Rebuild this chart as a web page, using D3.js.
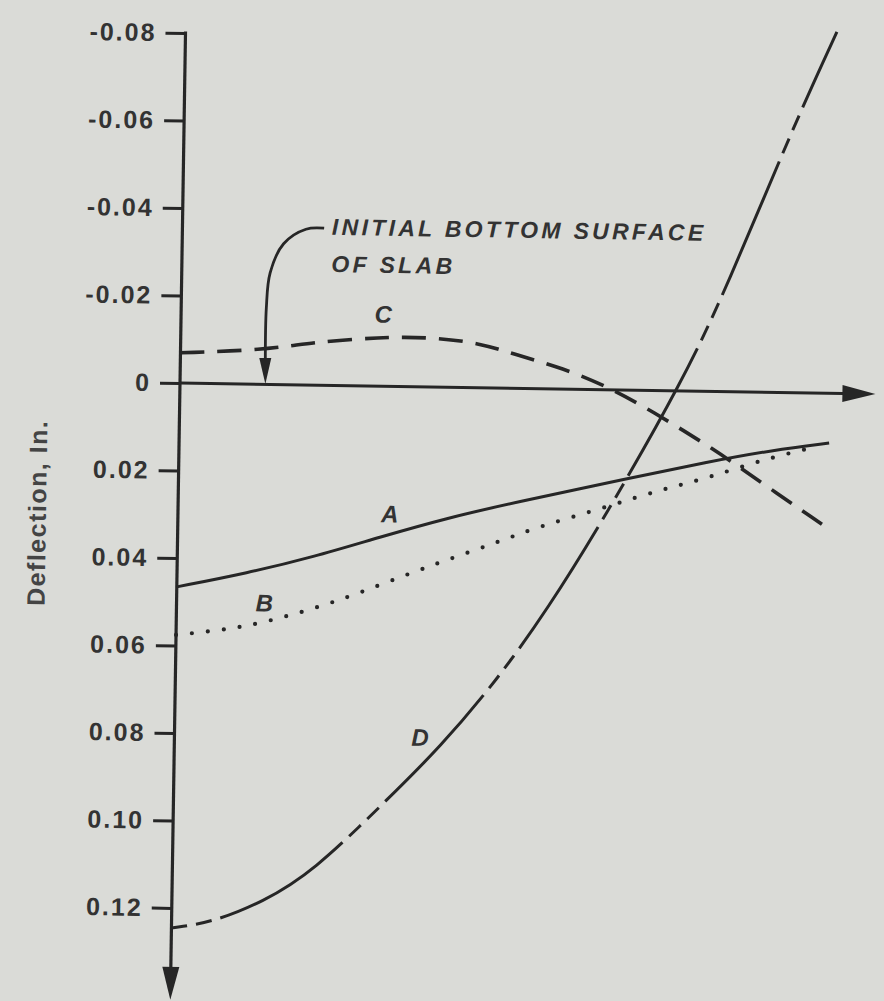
<!DOCTYPE html>
<html><head><meta charset="utf-8">
<script src="https://cdn.jsdelivr.net/npm/d3@7"></script>
<style>
html,body{margin:0;padding:0;background:#dadbd7;}
svg{display:block;}
text{font-family:"Liberation Sans",Arial,Helvetica,sans-serif;}
</style>
</head><body>
<svg id="c" width="884" height="1001"></svg>
<script>
// ---------------- data ----------------
const yTicks = [-0.08, -0.06, -0.04, -0.02, 0, 0.02, 0.04, 0.06, 0.08, 0.10, 0.12];
const yTickLabels = ["-0.08", "-0.06", "-0.04", "-0.02", "0", "0.02", "0.04", "0.06", "0.08", "0.10", "0.12"];
const yAxisTitle = "Deflection, In.";

// relative distance along slab (0..1) and deflection (in.)
const xA = [0, 0.108, 0.209, 0.311, 0.414, 0.515, 0.695, 0.812, 0.914, 1.0];
const yA = [0.0466, 0.0432, 0.0393, 0.0345, 0.0299, 0.0262, 0.0201, 0.0162, 0.0132, 0.0114];

const xB = [0, 0.086, 0.138, 0.216, 0.285, 0.363, 0.427, 0.493, 0.554, 0.634, 0.706, 0.764, 0.818, 0.883, 0.945, 0.985];
const yB = [0.0576, 0.0560, 0.0543, 0.0509, 0.0471, 0.0424, 0.0388, 0.0352, 0.0316, 0.0280, 0.0244, 0.0218, 0.0196, 0.0162, 0.0136, 0.0121];

const xC = [0, 0.127, 0.204, 0.307, 0.384, 0.461, 0.512, 0.589, 0.662, 0.724, 0.825, 0.884, 0.992];
const yC = [-0.0069, -0.0078, -0.0098, -0.0112, -0.0114, -0.0102, -0.0078, -0.0048, -0.0004, 0.0045, 0.0134, 0.0194, 0.0301];

const xD = [0, 0.064, 0.140, 0.216, 0.328, 0.409, 0.495, 0.570, 0.657, 0.774, 0.839, 0.937, 1.002];
const yD = [0.1246, 0.1231, 0.1183, 0.1113, 0.0946, 0.0823, 0.0667, 0.0506, 0.0291, -0.0025, -0.0239, -0.0607, -0.0826];

const curveNames = ["A", "B", "C", "D"];
const curveLabelX = [0.326, 0.135, 0.311, 0.378];
const curveLabelY = [0.0311, 0.0519, -0.0145, 0.0821];

const annotLines = ["INITIAL BOTTOM SURFACE", "OF SLAB"];
const annotTextX = [0.230, 0.230];
const annotTextY = [-0.0344, -0.0259];
const annotArrowX = [0.218, 0.190, 0.156, 0.136, 0.131, 0.131];
const annotArrowY = [-0.0359, -0.0356, -0.0322, -0.0255, -0.0175, -0.0001];

const xAxisEnd = 1.07;   // arrow tip of horizontal axis
const yAxisEnd = 0.141;  // arrow tip of vertical axis

// ---------------- drawing ----------------
const ink = "#262626", txt = "#333";
const svg = d3.select("#c");
const x = d3.scaleLinear().domain([0, 1]).range([180, 830]);
const y = d3.scaleLinear().domain([-0.08, 0.12]).range([33, 908]);

const defs = svg.append("defs");
function marker(id, len, half, back) {
  defs.append("marker").attr("id", id)
    .attr("markerUnits", "userSpaceOnUse").attr("orient", "auto")
    .attr("viewBox", `${-len} ${-half-1} ${len+back+2} ${2*half+2}`)
    .attr("refX", 0).attr("refY", 0)
    .attr("markerWidth", len+back+2).attr("markerHeight", 2*half+2)
    .append("path").attr("d", `M${back},0L${back-len},${-half}L${back-len},${half}Z`).attr("fill", ink);
}
marker("arrBig", 33, 8.5, 16);
marker("arrSmall", 26, 6, 12);

const g = svg.append("g").attr("transform", `rotate(0.9,${x(0)},${y(0)})`);

// Y axis with ticks
const yAxis = d3.axisLeft(y).tickValues(yTicks)
  .tickFormat((d, i) => yTickLabels[i]).tickSize(20).tickPadding(9);
const ya = g.append("g").attr("transform", `translate(${x(0)},0)`).call(yAxis);
ya.select(".domain").remove();
ya.selectAll(".tick line").attr("stroke", ink).attr("stroke-width", 3);
ya.selectAll(".tick text").attr("fill", txt).attr("font-size", 25).attr("font-weight", "bold")
  .attr("letter-spacing", 2).style("font-family", '"Liberation Sans",Arial,sans-serif');

// vertical axis line with arrow (tip at yAxisEnd)
const tipPadY = 16 / (y(1) - y(0));
g.append("line").attr("x1", x(0)).attr("x2", x(0))
  .attr("y1", y(-0.08) - 1.5).attr("y2", y(yAxisEnd - tipPadY))
  .attr("stroke", ink).attr("stroke-width", 3.2).attr("marker-end", "url(#arrBig)");

// horizontal axis / initial bottom surface
const tipPadX = 16 / (x(1) - x(0));
g.append("line").attr("x1", x(0)).attr("x2", x(xAxisEnd - tipPadX))
  .attr("y1", y(0)).attr("y2", y(0))
  .attr("stroke", ink).attr("stroke-width", 3).attr("marker-end", "url(#arrBig)");

// y axis title
g.append("text").attr("transform", `translate(48,515) rotate(-90)`)
  .attr("text-anchor", "middle").attr("fill", "#444").attr("font-size", 25)
  .attr("font-weight", "bold").attr("letter-spacing", 1.5).text(yAxisTitle);

// curves
const line = d3.line().x(d => x(d[0])).y(d => y(d[1])).curve(d3.curveBasis);
const series = [
  {xs: xA, ys: yA, dash: null, w: 3, cap: "butt"},
  {xs: xB, ys: yB, dash: "0,16", w: 4.2, cap: "round"},
  {xs: xC, ys: yC, dash: "24,13", w: 3.6, cap: "butt"},
  {xs: xD, ys: yD, dash: "145,9,16,9,16,9", w: 3, cap: "butt", off: 154}
];
series.forEach(s => {
  const p = g.append("path").datum(s.xs.map((v, i) => [v, s.ys[i]]))
    .attr("d", line).attr("fill", "none").attr("stroke", ink)
    .attr("stroke-width", s.w).attr("stroke-linecap", s.cap);
  if (s.dash) p.attr("stroke-dasharray", s.dash);
  if (s.off) p.attr("stroke-dashoffset", s.off);
});

// curve labels
g.selectAll("text.cl").data(curveNames).enter().append("text")
  .attr("class", "cl").attr("x", (d, i) => x(curveLabelX[i])).attr("y", (d, i) => y(curveLabelY[i]))
  .attr("text-anchor", "middle").attr("font-size", 24).attr("font-style", "italic")
  .attr("font-weight", "bold").attr("fill", txt).text(d => d);

// annotation
g.selectAll("text.an").data(annotLines).enter().append("text")
  .attr("class", "an").attr("x", (d, i) => x(annotTextX[i])).attr("y", (d, i) => y(annotTextY[i]))
  .attr("font-size", 23).attr("font-style", "italic").attr("font-weight", "bold")
  .attr("letter-spacing", 3.3).attr("fill", txt).text(d => d);

const annLine = d3.line().x(d => x(d[0])).y(d => y(d[1])).curve(d3.curveCatmullRom.alpha(0.5));
const aPts = annotArrowX.map((v, i) => [v, annotArrowY[i]]);
// shorten last point so the arrowhead tip lands on the target
const tipPadA = 12 / (y(1) - y(0));
aPts[aPts.length - 1] = [aPts[aPts.length - 1][0], aPts[aPts.length - 1][1] - tipPadA];
g.append("path").datum(aPts).attr("d", annLine).attr("fill", "none")
  .attr("stroke", ink).attr("stroke-width", 2.8).attr("marker-end", "url(#arrSmall)");
</script>
</body></html>
